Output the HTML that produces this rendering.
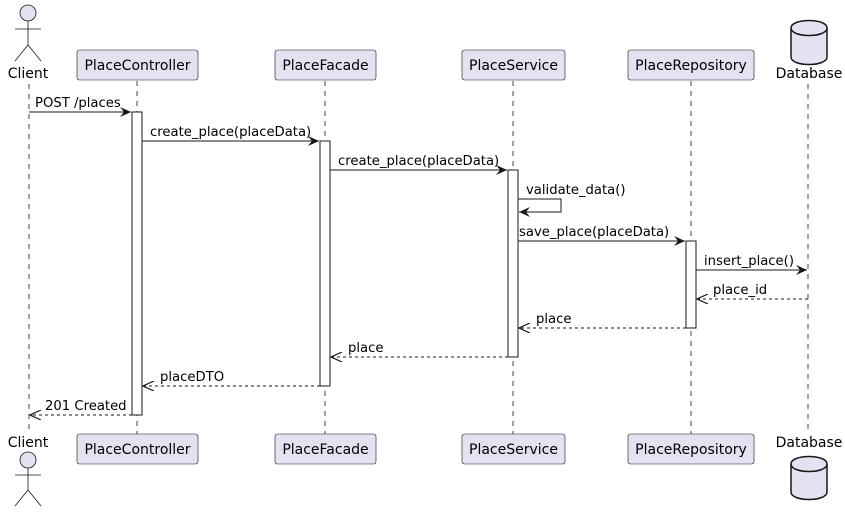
<!DOCTYPE html>
<html><head><meta charset="utf-8"><style>body{margin:0;background:#fff}svg{display:block}</style></head><body>
<svg width="845" height="514" xmlns="http://www.w3.org/2000/svg" font-family="DejaVu Sans, Liberation Sans, sans-serif">
<defs>
<marker id="a" markerWidth="12" markerHeight="10" refX="11" refY="5" orient="auto" markerUnits="userSpaceOnUse"><path d="M0,0 L11,5 L0,10 L4,5 Z" fill="#181818"/></marker>
<marker id="o" markerWidth="12" markerHeight="10" refX="11" refY="5" orient="auto" markerUnits="userSpaceOnUse"><path d="M0,0 L11,5 L0,10" fill="none" stroke="#181818" stroke-width="1.2"/></marker>
</defs>
<g stroke="#181818" stroke-width="0.8" stroke-dasharray="5,5">
<line x1="29" y1="84" x2="29" y2="434"/><line x1="137" y1="81" x2="137" y2="434"/><line x1="325" y1="81" x2="325" y2="434"/><line x1="513" y1="81" x2="513" y2="434"/><line x1="691" y1="81" x2="691" y2="434"/><line x1="808" y1="84" x2="808" y2="434"/>
</g>
<g fill="#E2E2F0" stroke="#181818" stroke-width="0.6">
<rect x="77" y="50" width="121" height="30" rx="2.5"/><rect x="275" y="50" width="101" height="30" rx="2.5"/><rect x="462" y="50" width="103" height="30" rx="2.5"/><rect x="628" y="50" width="126" height="30" rx="2.5"/>
<rect x="77" y="434" width="121" height="30" rx="2.5"/><rect x="275" y="434" width="101" height="30" rx="2.5"/><rect x="462" y="434" width="103" height="30" rx="2.5"/><rect x="628" y="434" width="126" height="30" rx="2.5"/>
</g>
<g font-size="14" fill="#000" text-anchor="middle">
<text x="137.5" y="70">PlaceController</text><text x="325.5" y="70">PlaceFacade</text><text x="513.5" y="70">PlaceService</text><text x="691" y="70">PlaceRepository</text>
<text x="137.5" y="454">PlaceController</text><text x="325.5" y="454">PlaceFacade</text><text x="513.5" y="454">PlaceService</text><text x="691" y="454">PlaceRepository</text>
<text x="28" y="78">Client</text><text x="809" y="78">Database</text>
<text x="28" y="447">Client</text><text x="809" y="447">Database</text>
</g>
<g fill="#E2E2F0" stroke="#181818" stroke-width="0.8">
<circle cx="28" cy="13" r="8"/><path d="M28,21 V45 M15,29 H41 M28,45 L15,61 M28,45 L41,61" fill="none"/>
<circle cx="28" cy="460" r="8"/><path d="M28,468 V490 M15,475 H41 M28,490 L15,506 M28,490 L41,506" fill="none"/>
</g>
<g fill="#E2E2F0" stroke="#181818" stroke-width="1.5">
<path d="M791,28 V57 C791,67 827,67 827,57 V28 C827,18 791,18 791,28 Z"/><path d="M791,28 C791,38 827,38 827,28" fill="none"/>
<path d="M791,464 V492 C791,502 827,502 827,492 V464 C827,454 791,454 791,464 Z"/><path d="M791,464 C791,474 827,474 827,464" fill="none"/>
</g>
<g fill="#fff" stroke="#181818" stroke-width="1">
<rect x="132" y="112" width="10" height="303"/><rect x="320" y="141" width="10" height="245"/><rect x="508" y="170" width="10" height="187"/><rect x="686" y="241" width="10" height="87"/>
</g>
<g stroke="#181818" stroke-width="1" fill="none">
<line x1="29" y1="112" x2="131" y2="112" marker-end="url(#a)"/>
<line x1="142" y1="141" x2="319" y2="141" marker-end="url(#a)"/>
<line x1="330" y1="170" x2="507" y2="170" marker-end="url(#a)"/>
<path d="M518,199 H561 V212 H519" marker-end="url(#a)"/>
<line x1="518" y1="241" x2="685" y2="241" marker-end="url(#a)"/>
<line x1="696" y1="270" x2="807" y2="270" marker-end="url(#a)"/>
<g stroke-dasharray="3,3">
<line x1="808" y1="299" x2="697" y2="299" marker-end="url(#o)"/>
<line x1="686" y1="328" x2="519" y2="328" marker-end="url(#o)"/>
<line x1="508" y1="357" x2="331" y2="357" marker-end="url(#o)"/>
<line x1="320" y1="386" x2="143" y2="386" marker-end="url(#o)"/>
<line x1="132" y1="415" x2="30" y2="415" marker-end="url(#o)"/>
</g>
</g>
<g font-size="13.2" fill="#000">
<text x="35" y="107">POST /places</text>
<text x="150" y="136">create_place(placeData)</text>
<text x="338" y="165">create_place(placeData)</text>
<text x="526" y="194">validate_data()</text>
<text x="519" y="236">save_place(placeData)</text>
<text x="704" y="265">insert_place()</text>
<text x="713" y="294">place_id</text>
<text x="536" y="323">place</text>
<text x="348" y="352">place</text>
<text x="160" y="381">placeDTO</text>
<text x="45" y="410">201 Created</text>
</g>
</svg>
</body></html>
